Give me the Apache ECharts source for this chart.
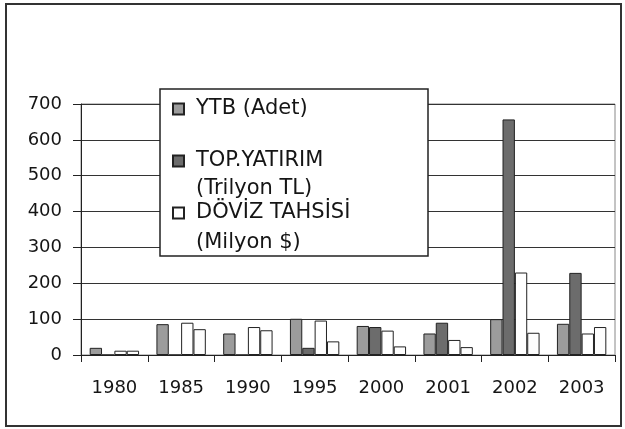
<!DOCTYPE html>
<html>
<head>
<meta charset="utf-8">
<script src="https://cdn.jsdelivr.net/npm/echarts@6/dist/echarts.min.js"></script>
<style>
  html, body { margin: 0; padding: 0; background: #fff; }
  #main { width: 625px; height: 429px; }
</style>
</head>
<body>
<div id="main"></div>
<script>
// veriler
var years = ['1980', '1985', '1990', '1995', '2000', '2001', '2002', '2003'];
var ytb = [20, 86, 60, 101, 81, 60, 100, 87];
var topYatirim = [0, 0, 0, 20, 78, 90, 657, 229];
var dovizTahsisi = [12, 90, 78, 96, 68, 42, 230, 60];
var dorduncu = [12, 72, 69, 38, 24, 22, 62, 78];
var yTicks = [0, 100, 200, 300, 400, 500, 600, 700];

var font = 'DejaVu Sans';
var textColor = '#151515';
var edge = '#222';

var myChart = echarts.init(document.getElementById('main'));

function bar(name, data, color) {
    return {
        name: name,
        type: 'bar',
        data: data,
        barGap: '0%',
        barCategoryGap: '26%',
        itemStyle: {
            color: color,
            borderColor: edge,
            borderWidth: 1
        }
    };
}

// her legend kalemi ayri konumlansin diye 3 tane legend
function legendItem(name, top, lh) {
    return {
        data: [name],
        left: 172,
        top: top,
        orient: 'vertical',
        padding: 0,
        icon: 'rect',
        itemWidth: 11,
        itemHeight: 11,
        selectedMode: false,
        formatter: function (n) {
            var p = n.split('|');
            if (p.length > 1) {
                return ' \n' + p[0] + '\n' + p[1];
            }
            return n;
        },
        textStyle: {
            fontFamily: font,
            fontSize: 21,
            color: textColor,
            lineHeight: lh,
            padding: [0, 0, 0, 7]
        }
    };
}

var option = {
    animation: false,
    grid: {
        left: 81,
        right: 10,
        top: 104,
        bottom: 74,
        show: true,
        borderColor: '#888',
        borderWidth: 1
    },
    xAxis: {
        type: 'category',
        data: years,
        axisLine: { lineStyle: { color: edge, width: 1 } },
        axisTick: { show: true, length: 7, lineStyle: { color: edge } },
        axisLabel: {
            fontFamily: font,
            fontSize: 18,
            color: textColor,
            margin: 24
        }
    },
    yAxis: {
        type: 'value',
        min: yTicks[0],
        max: yTicks[yTicks.length - 1],
        interval: 100,
        axisLine: { show: true, lineStyle: { color: edge, width: 1 } },
        axisTick: { show: true, length: 8, lineStyle: { color: edge } },
        splitLine: { lineStyle: { color: '#333', width: 1 } },
        axisLabel: {
            fontFamily: font,
            fontSize: 18,
            color: textColor,
            margin: 19
        }
    },
    legend: [
        legendItem('YTB (Adet)', 95, 28),
        legendItem('TOP.YATIRIM|(Trilyon TL)', 119, 28),
        legendItem('DÖVİZ TAHSİSİ|(Milyon $)', 168, 30)
    ],
    graphic: [
        // dis cerceve
        {
            type: 'rect',
            z: 0,
            shape: { x: 6, y: 4, width: 615, height: 422 },
            style: { fill: 'none', stroke: '#333', lineWidth: 2 }
        },
        // legend kutusu
        {
            type: 'rect',
            z: 3,
            shape: { x: 160, y: 89, width: 268, height: 167 },
            style: { fill: '#fff', stroke: '#222', lineWidth: 1.5 }
        }
    ],
    series: [
        bar('YTB (Adet)', ytb, '#9c9c9c'),
        bar('TOP.YATIRIM|(Trilyon TL)', topYatirim, '#6c6c6c'),
        bar('DÖVİZ TAHSİSİ|(Milyon $)', dovizTahsisi, '#ffffff'),
        bar('Diğer', dorduncu, '#fdfdfd')
    ]
};

myChart.setOption(option);
</script>
</body>
</html>
